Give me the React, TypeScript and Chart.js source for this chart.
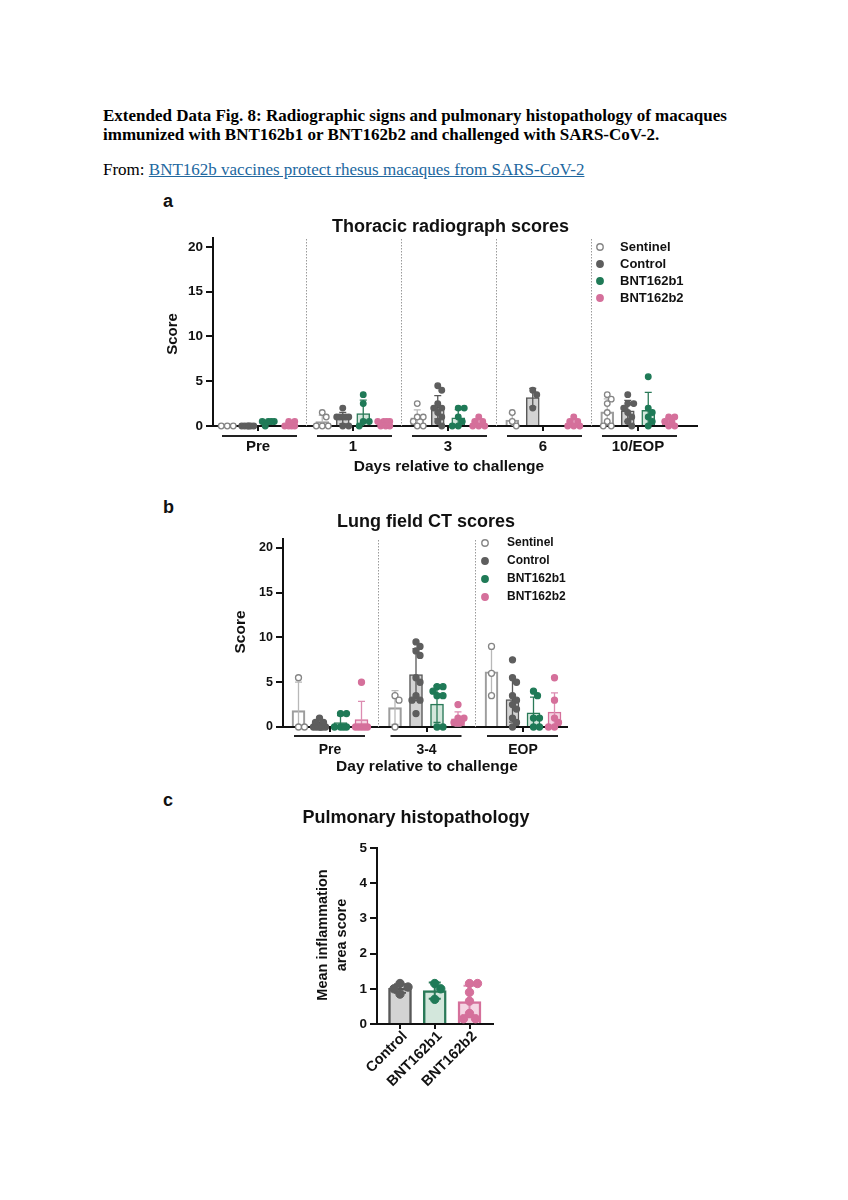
import React, { useEffect, useRef } from "react";
import { Chart, registerables } from "chart.js";

Chart.register(...registerables);

const FONT = '"Liberation Sans", Arial, Helvetica, sans-serif';

// ---------- series styling ----------
const SERIES_NAMES = ["Sentinel", "Control", "BNT162b1", "BNT162b2"];
const POINT_STROKES = ["#858585", "#5e5e5e", "#1f7a57", "#d5709b"];
const POINT_FILLS = ["#ffffff", "#5e5e5e", "#1f7a57", "#d5709b"];
const BAR_FILLS = ["rgba(255,255,255,0)", "#d3d3d3", "#d3e7dc", "#f5d5e3"];
const BAR_BORDERS = ["#9d9d9d", "#585858", "#2a7a58", "#d5709b"];
const ERR_COLORS = ["#b8b8b8", "#585858", "#2a7a58", "#dc8cb1"];

// ---------- panel a: thoracic radiograph scores ----------
const A_GROUPS = ["Pre", "1", "3", "6", "10/EOP"];
const A_SENTINEL = [[0, 0, 0], [1.5, 1, 0, 0, 0], [2.5, 1, 1, 0.5, 0, 0], [1.5, 0.5, 0], [3.5, 3, 2.5, 1.5, 0.5, 0, 0]];
const A_CONTROL = [[0, 0, 0, 0, 0, 0], [2, 1, 1, 1, 1, 1, 0, 0], [4.5, 4, 2.5, 2, 2, 1.5, 1, 0.5, 0], [4, 3.5, 2], [3.5, 2.5, 2.5, 2, 1.5, 1, 0.5, 0]];
const A_BNT162B1 = [[0.5, 0.5, 0.5, 0.5, 0], [3.5, 2.5, 0.5, 0.5, 0], [2, 2, 1, 0.5, 0, 0], [], [5.5, 2, 1.5, 1, 0.5, 0]];
const A_BNT162B2 = [[0.5, 0.5, 0, 0, 0, 0], [0.5, 0.5, 0.5, 0.5, 0, 0, 0], [1, 0.5, 0.5, 0, 0, 0], [1, 0.5, 0.5, 0, 0, 0], [1, 1, 0.5, 0.5, 0, 0]];
const A_MEAN_SENTINEL = [0, 0.5, 0.9, 0.67, 1.57];
const A_SD_SENTINEL = [0, 0.7, 0.9, 0.76, 1.45];
const A_MEAN_CONTROL = [0, 0.88, 2.1, 3.17, 1.69];
const A_SD_CONTROL = [0, 0.64, 1.3, 1.04, 1.17];
const A_MEAN_BNT162B1 = [0.4, 1.4, 0.92, null, 1.75];
const A_SD_BNT162B1 = [0.2, 1.5, 0.9, null, 2.0];
const A_MEAN_BNT162B2 = [0.17, 0.29, 0.33, 0.33, 0.5];
const A_SD_BNT162B2 = [0.26, 0.27, 0.41, 0.41, 0.45];

// ---------- panel b: lung field CT scores ----------
const B_GROUPS = ["Pre", "3-4", "EOP"];
const B_SENTINEL = [[5.5, 0, 0], [3.5, 3, 0], [9, 6, 3.5]];
const B_CONTROL = [[1, 0.5, 0.5, 0, 0, 0, 0, 0, 0], [9.5, 9, 8.5, 8, 5.5, 5, 3.5, 3, 3, 1.5], [7.5, 5.5, 5, 3.5, 3, 2.5, 2, 1, 0.5, 0]];
const B_BNT162B1 = [[1.5, 1.5, 0, 0, 0, 0], [4.5, 4.5, 4, 3.5, 3.5, 0, 0], [4, 3.5, 1, 1, 0, 0]];
const B_BNT162B2 = [[5, 0, 0, 0, 0, 0], [2.5, 1, 1, 0.5, 0.5, 0.5], [5.5, 3, 1, 0.5, 0, 0]];
const B_MEAN_SENTINEL = [1.83, 2.17, 6.17];
const B_SD_SENTINEL = [3.18, 1.89, 2.75];
const B_MEAN_CONTROL = [0.22, 5.85, 3.05];
const B_SD_CONTROL = [0.36, 2.9, 2.5];
const B_MEAN_BNT162B1 = [0.5, 2.55, 1.58];
const B_SD_BNT162B1 = [0.77, 2.05, 1.75];
const B_MEAN_BNT162B2 = [0.83, 0.9, 1.67];
const B_SD_BNT162B2 = [2.04, 0.8, 2.15];

// ---------- panel c: pulmonary histopathology ----------
const C_GROUPS = ["Control", "BNT162b1", "BNT162b2"];
const C_POINTS = [[1.15, 1.05, 1.0, 0.85], [1.15, 1.0, 0.7], [1.15, 1.15, 0.9, 0.65, 0.3, 0.15, 0.15]];
const C_MEANS = [1.01, 0.95, 0.64];
const C_SDS = [0.12, 0.23, 0.45];

// ---------- helpers ----------
// horizontal scatter layout of the dots of one bar (pixel offsets)
function swarmOffsets(values: number[], pxPerY: number, diam: number, minFrac: number, maxOff: number): number[] {
  const order = values.map((_, i) => i).sort((a, b) => values[b] - values[a]);
  const placed: { x: number; y: number }[] = [];
  const out = new Array(values.length).fill(0);
  const minD = diam * minFrac;
  const cands: number[] = [0];
  for (let d = 1; d <= maxOff; d++) cands.push(d, -d);
  for (const i of order) {
    const y = values[i] * pxPerY;
    let best = 0;
    let bestD = -1;
    for (const x of cands) {
      const md = placed.length ? Math.min(...placed.map((p) => Math.hypot(p.x - x, p.y - y))) : Infinity;
      if (md >= minD) { best = x; bestD = Infinity; break; }
      if (md > bestD) { bestD = md; best = x; }
    }
    out[i] = best;
    placed.push({ x: best, y });
  }
  return out;
}

type SeriesDef = { name: string; color: number; points: number[][]; means: (number | null)[]; sds: (number | null)[] };

type PanelDef = {
  left: number; top: number; w: number; h: number;
  area: { l: number; r: number; t: number; b: number };
  xMin: number; xMax: number; pxPerX: number; pxPerY: number;
  yMax: number; yStep: number;
  groups: string[];
  tickVals: number[];
  xOf: (k: number, g: number) => number;
  series: SeriesDef[];
  barThickness: number; barBorder: number;
  pointRadius: number; pointBorder: number; swarmFrac: number; swarmMax: number;
  cap: number; errWidth: number;
  yTickSize: number; groupSize: number;
  title: { text: string; x: number; y: number; size: number };
  yTitle: { lines: string[]; xs: number[]; y: number; size: number };
  xTitle?: { text: string; x: number; y: number; size: number };
  legend?: { x: number; y: number; tx: number; dy: number; size: number; r: number };
  underline?: { dl: number; dr: number; dy: number };
  separators: boolean;
  rotated: boolean;
  labelDy: number;
};

function makePlugin(def: PanelDef) {
  return {
    id: "panelDecor",
    beforeDatasetsDraw(chart: any) {
      if (!def.separators) return;
      const ctx = chart.ctx;
      const xs = chart.scales.x;
      const a = chart.chartArea;
      ctx.save();
      ctx.strokeStyle = "#9a9a9a";
      ctx.lineWidth = 1;
      ctx.setLineDash([1.5, 1.5]);
      for (let g = 0; g < def.groups.length - 1; g++) {
        const x = Math.round(xs.getPixelForValue(g + 0.5)) + 0.5;
        ctx.beginPath();
        ctx.moveTo(x, a.top + 1);
        ctx.lineTo(x, a.bottom);
        ctx.stroke();
      }
      ctx.restore();
    },
    afterDatasetDraw(chart: any, args: any) {
      const ds: any = chart.data.datasets[args.index];
      if (!ds.errs) return;
      const ctx = chart.ctx;
      const xs = chart.scales.x;
      const ys = chart.scales.y;
      ctx.save();
      ctx.strokeStyle = ds.errColor;
      ctx.lineWidth = def.errWidth;
      ds.data.forEach((p: any, i: number) => {
        const sd = ds.errs[i];
        if (!sd) return;
        const x = xs.getPixelForValue(p.x);
        const yt = ys.getPixelForValue(p.y + sd);
        const lo = Math.max(0, p.y - sd);
        const yb = ys.getPixelForValue(lo);
        ctx.beginPath();
        ctx.moveTo(x, yb);
        ctx.lineTo(x, yt);
        ctx.moveTo(x - def.cap, yt);
        ctx.lineTo(x + def.cap, yt);
        if (lo > 0) {
          ctx.moveTo(x - def.cap, yb);
          ctx.lineTo(x + def.cap, yb);
        }
        ctx.stroke();
      });
      ctx.restore();
    },
    afterDraw(chart: any) {
      const ctx = chart.ctx;
      const xs = chart.scales.x;
      const a = chart.chartArea;
      ctx.save();
      ctx.fillStyle = "#111";
      // title
      ctx.font = `bold ${def.title.size}px ${FONT}`;
      ctx.textAlign = "center";
      ctx.textBaseline = "middle";
      ctx.fillText(def.title.text, def.title.x, def.title.y);
      // y title
      ctx.font = `bold ${def.yTitle.size}px ${FONT}`;
      def.yTitle.lines.forEach((ln, i) => {
        ctx.save();
        ctx.translate(def.yTitle.xs[i], def.yTitle.y);
        ctx.rotate(-Math.PI / 2);
        ctx.textAlign = "center";
        ctx.textBaseline = "middle";
        ctx.fillText(ln, 0, 0);
        ctx.restore();
      });
      // x title
      if (def.xTitle) {
        ctx.font = `bold ${def.xTitle.size}px ${FONT}`;
        ctx.fillText(def.xTitle.text, def.xTitle.x, def.xTitle.y);
      }
      // group labels + underlines
      ctx.font = `bold ${def.groupSize}px ${FONT}`;
      def.groups.forEach((label, g) => {
        const x = xs.getPixelForValue(def.tickVals[g]);
        if (def.rotated) {
          ctx.save();
          ctx.translate(x + 5, a.bottom + def.labelDy);
          ctx.rotate(-Math.PI / 4);
          ctx.textAlign = "right";
          ctx.textBaseline = "middle";
          ctx.fillText(label, 0, 0);
          ctx.restore();
        } else {
          ctx.textAlign = "center";
          ctx.textBaseline = "middle";
          ctx.fillText(label, x, a.bottom + def.labelDy);
        }
        if (def.underline) {
          ctx.strokeStyle = "#222";
          ctx.lineWidth = 2;
          ctx.beginPath();
          ctx.moveTo(x - def.underline.dl, a.bottom + def.underline.dy);
          ctx.lineTo(x + def.underline.dr, a.bottom + def.underline.dy);
          ctx.stroke();
        }
      });
      // legend
      if (def.legend) {
        const L = def.legend;
        ctx.font = `bold ${L.size}px ${FONT}`;
        ctx.textAlign = "left";
        ctx.textBaseline = "middle";
        def.series.forEach((s, i) => {
          const y = L.y + i * L.dy;
          ctx.beginPath();
          ctx.arc(L.x, y, L.r, 0, Math.PI * 2);
          ctx.fillStyle = POINT_FILLS[s.color];
          ctx.fill();
          ctx.strokeStyle = POINT_STROKES[s.color];
          ctx.lineWidth = 1.4;
          ctx.stroke();
          ctx.fillStyle = "#111";
          ctx.fillText(s.name, L.tx, y);
        });
      }
      ctx.restore();
    },
  };
}

function buildConfig(def: PanelDef): any {
  const barSets: any[] = [];
  const dotSets: any[] = [];
  def.series.forEach((s, k) => {
    const c = s.color;
    const bars: any[] = [];
    const errs: number[] = [];
    const dots: any[] = [];
    s.means.forEach((m, g) => {
      if (m === null || m === undefined) return;
      const xc = def.xOf(k, g);
      bars.push({ x: xc, y: m });
      errs.push(s.sds[g] ?? 0);
      const vals = s.points[g];
      const offs = swarmOffsets(vals, def.pxPerY, def.pointRadius * 2 + def.pointBorder, def.swarmFrac, def.swarmMax);
      vals.forEach((v, i) => dots.push({ x: xc + offs[i] / def.pxPerX, y: v }));
    });
    barSets.push({
      type: "bar",
      label: s.name,
      data: bars,
      errs,
      errColor: ERR_COLORS[c],
      backgroundColor: BAR_FILLS[c],
      borderColor: BAR_BORDERS[c],
      borderWidth: def.barBorder,
      barThickness: def.barThickness,
      grouped: false,
      order: 2,
    });
    dotSets.push({
      type: "scatter",
      label: s.name + " animals",
      data: dots,
      pointRadius: def.pointRadius,
      pointBorderWidth: def.pointBorder,
      pointBackgroundColor: POINT_FILLS[c],
      pointBorderColor: POINT_STROKES[c],
      showLine: false,
      order: 1,
      clip: false,
    });
  });
  const { yStep, yMax } = def;
  const yTicks: { value: number }[] = [];
  for (let v = 0; v <= yMax + 1e-9; v += yStep) yTicks.push({ value: v });
  return {
    type: "bar",
    data: { datasets: [...barSets, ...dotSets] },
    plugins: [makePlugin(def)],
    options: {
      animation: false,
      responsive: false,
      maintainAspectRatio: false,
      events: [],
      layout: { padding: { left: 0, top: def.area.t, right: def.w - def.area.r, bottom: 0 } },
      plugins: { legend: { display: false }, tooltip: { enabled: false }, title: { display: false } },
      scales: {
        x: {
          type: "linear",
          min: def.xMin,
          max: def.xMax,
          offset: false,
          afterFit: (s: any) => { s.height = def.h - def.area.b; },
          afterBuildTicks: (s: any) => { s.ticks = def.tickVals.map((v) => ({ value: v })); },
          ticks: { display: false },
          grid: { offset: false, drawOnChartArea: false, drawTicks: true, tickLength: 5, color: "#111", lineWidth: 2 },
          border: { display: true, color: "#111", width: 2 },
        },
        y: {
          type: "linear",
          min: 0,
          max: yMax,
          afterFit: (s: any) => { s.width = def.area.l; },
          afterBuildTicks: (s: any) => { s.ticks = yTicks.map((t) => ({ value: t.value })); },
          ticks: { color: "#111", padding: 3, font: { family: FONT, size: def.yTickSize, weight: "bold" } },
          grid: { drawOnChartArea: false, drawTicks: true, tickLength: 7, color: "#111", lineWidth: 2 },
          border: { display: true, color: "#111", width: 2 },
        },
      },
    },
  };
}

// ---------- panel definitions ----------
const A_SERIES: SeriesDef[] = [
  { name: SERIES_NAMES[0], color: 0, points: A_SENTINEL, means: A_MEAN_SENTINEL, sds: A_SD_SENTINEL },
  { name: SERIES_NAMES[1], color: 1, points: A_CONTROL, means: A_MEAN_CONTROL, sds: A_SD_CONTROL },
  { name: SERIES_NAMES[2], color: 2, points: A_BNT162B1, means: A_MEAN_BNT162B1, sds: A_SD_BNT162B1 },
  { name: SERIES_NAMES[3], color: 3, points: A_BNT162B2, means: A_MEAN_BNT162B2, sds: A_SD_BNT162B2 },
];
const B_SERIES: SeriesDef[] = [
  { name: SERIES_NAMES[0], color: 0, points: B_SENTINEL, means: B_MEAN_SENTINEL, sds: B_SD_SENTINEL },
  { name: SERIES_NAMES[1], color: 1, points: B_CONTROL, means: B_MEAN_CONTROL, sds: B_SD_CONTROL },
  { name: SERIES_NAMES[2], color: 2, points: B_BNT162B1, means: B_MEAN_BNT162B1, sds: B_SD_BNT162B1 },
  { name: SERIES_NAMES[3], color: 3, points: B_BNT162B2, means: B_MEAN_BNT162B2, sds: B_SD_BNT162B2 },
];
const C_SERIES: SeriesDef[] = C_GROUPS.map((name, i) => ({
  name,
  color: i + 1,
  points: [C_POINTS[i]],
  means: [C_MEANS[i]],
  sds: [C_SDS[i]],
}));

const PANEL_A: PanelDef = {
  left: 150, top: 205, w: 560, h: 280,
  area: { l: 63, r: 547, t: 33, b: 221 },
  xMin: -45 / 95, xMax: (547 - 108) / 95, pxPerX: 95, pxPerY: 188 / 21,
  yMax: 21, yStep: 5,
  groups: A_GROUPS,
  tickVals: [0, 1, 2, 3, 4],
  xOf: (k, g) => g + ((k - 1.5) * 20.5) / 95,
  series: A_SERIES,
  barThickness: 13, barBorder: 1.5,
  pointRadius: 2.8, pointBorder: 1.3, swarmFrac: 0.8, swarmMax: 6,
  cap: 3.5, errWidth: 1.3,
  yTickSize: 13.5, groupSize: 15,
  title: { text: "Thoracic radiograph scores", x: 300.5, y: 22, size: 18 },
  yTitle: { lines: ["Score"], xs: [22.5], y: 129, size: 15 },
  xTitle: { text: "Days relative to challenge", x: 299, y: 262, size: 15.5 },
  legend: { x: 450, y: 42, tx: 470, dy: 17, size: 13, r: 3.2 },
  underline: { dl: 36, dr: 39, dy: 10 },
  separators: true,
  rotated: false,
  labelDy: 21,
};

const PANEL_B: PanelDef = {
  left: 200, top: 505, w: 400, h: 280,
  area: { l: 83, r: 367, t: 34, b: 222 },
  xMin: (83 - 130) / 96.5, xMax: (367 - 130) / 96.5, pxPerX: 96.5, pxPerY: 188 / 21,
  yMax: 21, yStep: 5,
  groups: B_GROUPS,
  tickVals: [0, 1, 2],
  xOf: (k, g) => g + ((k - 1.5) * 21) / 96.5,
  series: B_SERIES,
  barThickness: 13, barBorder: 1.5,
  pointRadius: 3, pointBorder: 1.3, swarmFrac: 0.8, swarmMax: 6,
  cap: 3.5, errWidth: 1.3,
  yTickSize: 12.5, groupSize: 14,
  title: { text: "Lung field CT scores", x: 226, y: 17, size: 18 },
  yTitle: { lines: ["Score"], xs: [41], y: 127, size: 15.5 },
  xTitle: { text: "Day relative to challenge", x: 227, y: 262, size: 15.5 },
  legend: { x: 285, y: 38, tx: 307, dy: 18, size: 12, r: 3.2 },
  underline: { dl: 36, dr: 35, dy: 9 },
  separators: true,
  rotated: false,
  labelDy: 23,
};

const PANEL_C: PanelDef = {
  left: 280, top: 790, w: 270, h: 310,
  area: { l: 97, r: 213, t: 58, b: 234 },
  xMin: (97 - 120) / 34.75, xMax: (213 - 120) / 34.75, pxPerX: 34.75, pxPerY: 176 / 5,
  yMax: 5, yStep: 1,
  groups: C_GROUPS,
  tickVals: [0, 1, 2],
  xOf: (k) => k,
  series: C_SERIES,
  barThickness: 23, barBorder: 2.5,
  pointRadius: 4.2, pointBorder: 1, swarmFrac: 0.85, swarmMax: 8,
  cap: 6, errWidth: 2,
  yTickSize: 13.5, groupSize: 14.5,
  title: { text: "Pulmonary histopathology", x: 136, y: 28, size: 18 },
  yTitle: { lines: ["Mean inflammation", "area score"], xs: [43, 62], y: 145, size: 14.5 },
  separators: false,
  rotated: true,
  labelDy: 10,
};

function Panel({ def }: { def: PanelDef }) {
  const ref = useRef<HTMLCanvasElement>(null);
  useEffect(() => {
    if (!ref.current) return;
    const chart = new Chart(ref.current, buildConfig(def));
    return () => chart.destroy();
  }, [def]);
  return (
    <canvas
      ref={ref}
      width={def.w}
      height={def.h}
      style={{ position: "absolute", left: def.left, top: def.top, width: def.w, height: def.h }}
    />
  );
}

const panelLabel = (text: string, top: number) => (
  <div
    style={{
      position: "absolute",
      left: 163,
      top,
      font: `bold 18px ${FONT}`,
      lineHeight: "18px",
      color: "#111",
    }}
  >
    {text}
  </div>
);

export default function App() {
  return (
    <div style={{ position: "absolute", left: 0, top: 0, width: 848, height: 1200, background: "#fff", overflow: "hidden" }}>
      <div
        style={{
          position: "absolute",
          left: 103,
          top: 106,
          font: 'bold 17px "Liberation Serif", "Times New Roman", serif',
          lineHeight: "19px",
          whiteSpace: "nowrap",
          color: "#000",
        }}
      >
        Extended Data Fig. 8: Radiographic signs and pulmonary histopathology of macaques
        <br />
        immunized with BNT162b1 or BNT162b2 and challenged with SARS-CoV-2.
      </div>
      <div
        style={{
          position: "absolute",
          left: 103,
          top: 160,
          font: '17px "Liberation Serif", "Times New Roman", serif',
          lineHeight: "19px",
          whiteSpace: "nowrap",
          color: "#000",
        }}
      >
        From:{" "}
        <span style={{ color: "#22689f", textDecoration: "underline" }}>
          BNT162b vaccines protect rhesus macaques from SARS-CoV-2
        </span>
      </div>
      {panelLabel("a", 192)}
      {panelLabel("b", 498)}
      {panelLabel("c", 791)}
      <Panel def={PANEL_A} />
      <Panel def={PANEL_B} />
      <Panel def={PANEL_C} />
    </div>
  );
}
